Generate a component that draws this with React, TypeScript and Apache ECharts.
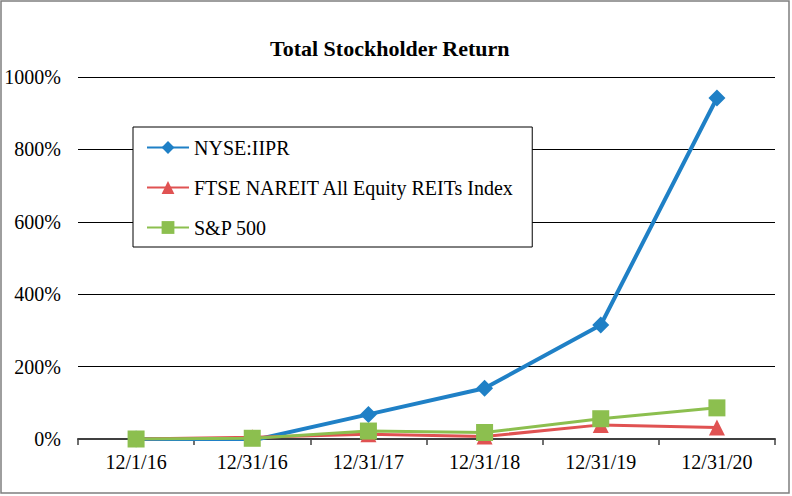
import React, { useEffect, useRef } from "react";
import * as echarts from "echarts";

const categories = ["12/1/16", "12/31/16", "12/31/17", "12/31/18", "12/31/19", "12/31/20"];
const iiprValues = [0, -4, 68, 140, 315, 942];
const reitValues = [0, 5, 13, 7, 39, 32];
const spValues = [0, 2, 22, 18, 56, 86];
const seriesNames = ["NYSE:IIPR", "FTSE NAREIT All Equity REITs Index", "S&P 500"];
const yTicks = { min: 0, max: 1000, interval: 200 };

const FONT = "Liberation Serif";

export default function App() {
  const ref = useRef<HTMLDivElement>(null);
  useEffect(() => {
    if (!ref.current) return;
    const chart = echarts.init(ref.current, null, { renderer: "svg" });
    chart.setOption({
      animation: false,
      backgroundColor: "#ffffff",
      textStyle: { fontFamily: FONT, color: "#000" },
      title: {
        text: "Total Stockholder Return",
        left: 265,
        top: 32,
        textStyle: { fontFamily: FONT, fontSize: 22, fontWeight: "bold", color: "#000" },
      },
      graphic: [
        {
          type: "rect",
          shape: { x: 1, y: 1, width: 788, height: 492 },
          style: { fill: "none", stroke: "#7f7f7f", lineWidth: 1.5 },
          silent: true,
          z: -1,
        },
      ],
      legend: {
        orient: "vertical",
        left: 133,
        top: 127,
        width: 420,
        padding: [10, 18, 9, 13],
        borderColor: "#000",
        borderWidth: 1,
        backgroundColor: "#fff",
        itemWidth: 42,
        itemHeight: 16,
        itemGap: 19,
        textStyle: { fontFamily: FONT, fontSize: 20, color: "#000", lineHeight: 21 },
        data: seriesNames,
        z: 10,
      },
      grid: { left: 78, right: 17, top: 77, bottom: 57, containLabel: false },
      xAxis: {
        type: "category",
        data: categories,
        boundaryGap: true,
        axisLine: { lineStyle: { color: "#404040", width: 2 } },
        axisTick: { show: true, length: 6, lineStyle: { color: "#404040", width: 1.5 } },
        axisLabel: { fontFamily: FONT, fontSize: 20, color: "#000", margin: 13 },
      },
      yAxis: {
        type: "value",
        min: yTicks.min,
        max: yTicks.max,
        interval: yTicks.interval,
        axisLine: { show: false },
        axisTick: { show: false },
        axisLabel: {
          fontFamily: FONT,
          fontSize: 20,
          color: "#000",
          margin: 17,
          formatter: (v: number) => `${v}%`,
        },
        splitLine: { lineStyle: { color: "#000", width: 1.2 } },
      },
      series: [
        {
          name: seriesNames[0],
          type: "line",
          data: iiprValues,
          symbol: "diamond",
          symbolSize: 17,
          lineStyle: { color: "#1f80c6", width: 4 },
          itemStyle: { color: "#1f80c6" },
          z: 2,
        },
        {
          name: seriesNames[1],
          type: "line",
          data: reitValues,
          symbol: "triangle",
          symbolSize: 16,
          lineStyle: { color: "#e05252", width: 3 },
          itemStyle: { color: "#e05252" },
          z: 3,
        },
        {
          name: seriesNames[2],
          type: "line",
          data: spValues,
          symbol: "rect",
          symbolSize: 17,
          lineStyle: { color: "#8cbf4f", width: 3 },
          itemStyle: { color: "#8cbf4f" },
          z: 4,
        },
      ],
    });
    return () => chart.dispose();
  }, []);
  return (
    <div
      ref={ref}
      style={{ position: "fixed", left: 0, top: 0, width: 792, height: 496 }}
    />
  );
}
